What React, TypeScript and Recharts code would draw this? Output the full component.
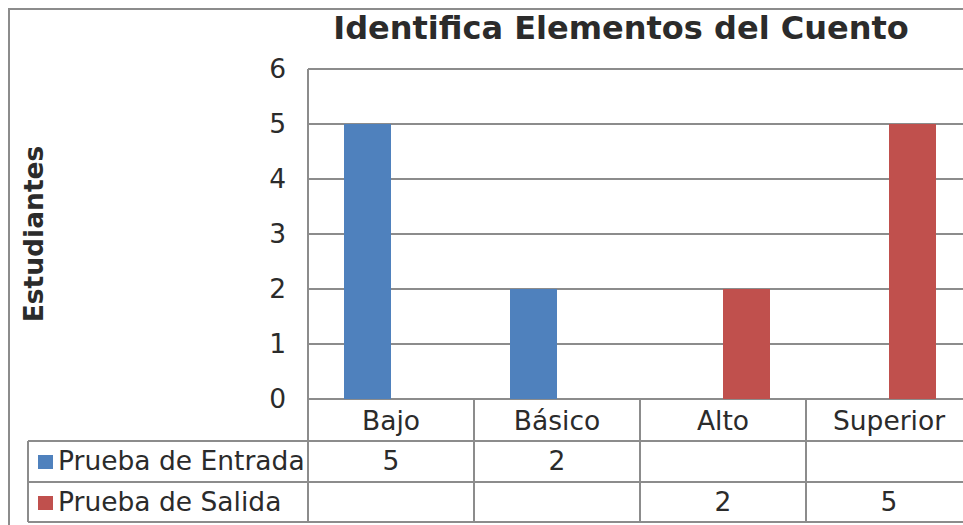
import React from "react"
import { BarChart, Bar, XAxis, YAxis, CartesianGrid } from "recharts"

const categories = ["Bajo", "Básico", "Alto", "Superior"]
const entradaValues = [5, 2, null, null]
const salidaValues = [null, null, 2, 5]
const seriesNames = ["Prueba de Entrada", "Prueba de Salida"]
const yTicks = [0, 1, 2, 3, 4, 5, 6]

const COLORS = ["#4F81BD", "#C0504D"]
const GRID = "#8c8c8c"
const TEXT = "#2b2b2b"
const FONT = "'DejaVu Sans', sans-serif"
const FS = 26.5

const CHART_W = 1000
const CHART_H = 560
const Y_AXIS_W = 308
const MARGIN = { top: 69, right: 28, left: 0, bottom: 0 }
const X_AXIS_H = CHART_H - 399
const CELL_W = (CHART_W - Y_AXIS_W - MARGIN.right) / categories.length
const TABLE_LEFT = 28
const ROW_LINES = [42, 83, 123] // below the axis line
const ROW_BASE = [31, 71, 112]

const data = categories.map((c, i) => ({
  name: c,
  entrada: entradaValues[i],
  salida: salidaValues[i],
}))

const TableTick = (props: any) => {
  const { x, y, payload, index } = props
  const left = x - CELL_W / 2
  const right = x + CELL_W / 2
  const rows = [entradaValues, salidaValues]
  return (
    <g>
      {ROW_LINES.map((d, k) => (
        <line key={`h${k}`} x1={left} x2={right} y1={y + d} y2={y + d} stroke={GRID} strokeWidth={2} />
      ))}
      <line x1={right} x2={right} y1={y} y2={y + ROW_LINES[2]} stroke={GRID} strokeWidth={2} />
      <text x={x} y={y + ROW_BASE[0]} textAnchor="middle" fontSize={FS} fill={TEXT} fontFamily={FONT}>
        {payload.value}
      </text>
      {rows.map((r, k) =>
        r[index] == null ? null : (
          <text key={`v${k}`} x={x} y={y + ROW_BASE[k + 1]} textAnchor="middle" fontSize={FS} fill={TEXT} fontFamily={FONT}>
            {r[index]}
          </text>
        )
      )}
      {index === 0 && (
        <g>
          <line x1={left} x2={left} y1={y} y2={y + ROW_LINES[2]} stroke={GRID} strokeWidth={2} />
          <line x1={TABLE_LEFT} x2={TABLE_LEFT} y1={y + ROW_LINES[0]} y2={y + ROW_LINES[2]} stroke={GRID} strokeWidth={2} />
          {ROW_LINES.map((d, k) => (
            <line key={`hh${k}`} x1={TABLE_LEFT} x2={left} y1={y + d} y2={y + d} stroke={GRID} strokeWidth={2} />
          ))}
          {seriesNames.map((s, k) => (
            <g key={s}>
              <rect x={TABLE_LEFT + 10} y={y + ROW_BASE[k + 1] - 15} width={15} height={14} fill={COLORS[k]} />
              <text x={TABLE_LEFT + 30} y={y + ROW_BASE[k + 1]} fontSize={FS} fill={TEXT} fontFamily={FONT}>
                {s}
              </text>
            </g>
          ))}
        </g>
      )}
    </g>
  )
}

const YLabel = (props: any) => {
  const { viewBox } = props
  const cy = viewBox.y + viewBox.height / 2
  const cx = 33
  return (
    <text
      x={cx}
      y={cy}
      transform={`rotate(-90 ${cx} ${cy})`}
      textAnchor="middle"
      dominantBaseline="central"
      fontSize={26.5}
      fontWeight="bold"
      fill={TEXT}
      fontFamily={FONT}
    >
      Estudiantes
    </text>
  )
}

export default function App() {
  return (
    <div
      style={{
        position: "absolute",
        left: 0,
        top: 0,
        width: 963,
        height: 525,
        overflow: "hidden",
        background: "#fff",
      }}
    >
      <div
        style={{
          position: "absolute",
          left: 8,
          top: 8,
          width: 2000,
          height: 2000,
          borderLeft: `2px solid ${GRID}`,
          borderTop: `2px solid ${GRID}`,
        }}
      />
      <div style={{ position: "absolute", left: 0, top: 0 }}>
        <BarChart width={CHART_W} height={CHART_H} data={data} margin={MARGIN} barGap={0}>
          <text
            x={621}
            y={39}
            textAnchor="middle"
            fontSize={32}
            fontWeight="bold"
            fill={TEXT}
            fontFamily={FONT}
          >
            Identifica Elementos del Cuento
          </text>
          <CartesianGrid vertical={false} stroke={GRID} strokeWidth={2} />
          <XAxis
            dataKey="name"
            height={X_AXIS_H}
            axisLine={false}
            tickLine={false}
            tickSize={0}
            tickMargin={0}
            interval={0}
            tick={<TableTick />}
          />
          <YAxis
            width={Y_AXIS_W}
            domain={[0, 6]}
            ticks={yTicks}
            axisLine={{ stroke: GRID, strokeWidth: 2 }}
            tickLine={false}
            tickMargin={16}
            tick={{ fontSize: FS, fill: TEXT, fontFamily: FONT }}
            label={<YLabel />}
          />
          <Bar dataKey="entrada" name={seriesNames[0]} fill={COLORS[0]} barSize={47} isAnimationActive={false} />
          <Bar dataKey="salida" name={seriesNames[1]} fill={COLORS[1]} barSize={47} isAnimationActive={false} />
        </BarChart>
      </div>
    </div>
  )
}
